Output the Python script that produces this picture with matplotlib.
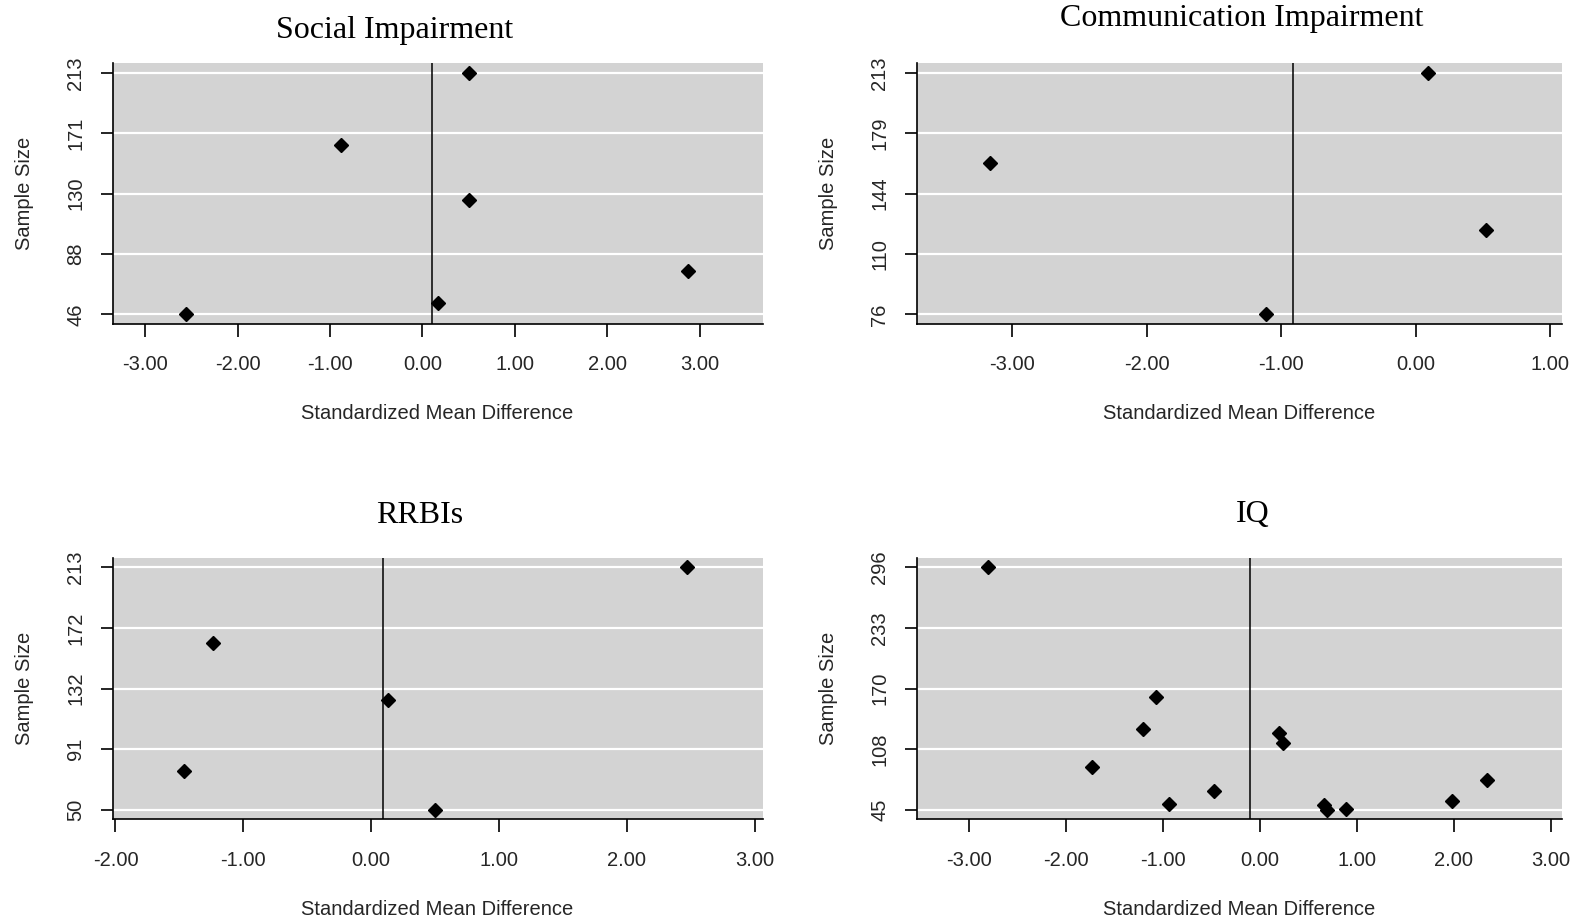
import numpy as np
import matplotlib
matplotlib.use("Agg")
import matplotlib.pyplot as plt

plt.rcParams["font.family"] = ["Liberation Sans", "DejaVu Sans"]

# data: standardized mean difference vs sample size
social_smd = [0.50, -0.88, 0.50, 2.87, 0.17, -2.56]
social_n = [213, 163, 125, 76, 54, 46]
social_mean = 0.10

comm_smd = [0.09, -3.17, 0.52, -1.11]
comm_n = [213, 162, 124, 76]
comm_mean = -0.91

rrbi_smd = [2.47, -1.24, 0.13, -1.46, 0.50]
rrbi_n = [213, 162, 124, 76, 50]
rrbi_mean = 0.094

iq_smd = [-2.81, -1.07, -1.21, -1.73, -0.94, -0.47, 0.20, 0.24, 0.66, 0.69, 0.89, 1.98, 2.34]
iq_n = [296, 162, 129, 89, 51, 64, 124, 114, 50, 45, 46, 54, 76]
iq_mean = -0.098

social_yticks = ["46", "88", "130", "171", "213"]
comm_yticks = ["76", "110", "144", "179", "213"]
rrbi_yticks = ["50", "91", "132", "172", "213"]
iq_yticks = ["45", "108", "170", "233", "296"]

social_xticks = [-3, -2, -1, 0, 1, 2, 3]
comm_xticks = [-3, -2, -1, 0, 1]
rrbi_xticks = [-2, -1, 0, 1, 2, 3]
iq_xticks = [-3, -2, -1, 0, 1, 2, 3]

W, H = 1576, 923
fig = plt.figure(figsize=(W / 100, H / 100), dpi=100)


def px_axes(left, top, right, bottom):
    return fig.add_axes([left / W, 1 - bottom / H, (right - left) / W, (bottom - top) / H])


panels = [
    (px_axes(112.5, 63.3, 762.5, 324.0), social_smd, social_n, social_mean,
     social_yticks, social_xticks, (-3.355, 3.68)),
    (px_axes(916.5, 63.3, 1561.5, 324.0), comm_smd, comm_n, comm_mean,
     comm_yticks, comm_xticks, (-3.714, 1.085)),
    (px_axes(112.5, 557.7, 762.5, 819.3), rrbi_smd, rrbi_n, rrbi_mean,
     rrbi_yticks, rrbi_xticks, (-2.023, 3.06)),
    (px_axes(916.5, 557.7, 1561.5, 819.3), iq_smd, iq_n, iq_mean,
     iq_yticks, iq_xticks, (-3.543, 3.11)),
]

txt_col = "#262626"
for ax, smd, n, mean, ylabs, xt, xlim in panels:
    lo, hi = int(ylabs[0]), int(ylabs[-1])
    pad = 0.04 * (hi - lo)
    ax.set_facecolor("#d3d3d3")
    ax.set_axisbelow(True)
    ax.yaxis.grid(True, color="white", lw=1.6)
    ax.xaxis.grid(False)
    ax.axvline(mean, color="black", lw=1.1, zorder=2)
    ax.plot(smd, n, "D", color="black", ms=7.3, zorder=3)
    ax.set_xlim(*xlim)
    ax.set_ylim(lo - pad, hi + pad)
    ax.set_yticks(np.linspace(lo, hi, 5))
    ax.set_yticklabels(ylabs, rotation=90, va="center", fontsize=14.5, color=txt_col)
    ax.set_xticks(xt)
    ax.set_xticklabels(["%.2f" % v for v in xt], fontsize=14.5, color=txt_col)
    ax.tick_params(axis="x", length=9.5, width=1.2, pad=13)
    ax.tick_params(axis="y", length=9, width=1.2, pad=10.5)
    for s in ["top", "right"]:
        ax.spines[s].set_visible(False)
    for s in ["left", "bottom"]:
        ax.spines[s].set_linewidth(1.2)
    ax.set_ylabel("Sample Size", fontsize=14.5, color=txt_col)
    ax.yaxis.set_label_coords(-0.121, 0.5)
    ax.set_xlabel("Standardized Mean Difference", fontsize=14.5, color=txt_col)
    ax.xaxis.set_label_coords(0.5, -0.343)
    ax.xaxis.label.set_va("center")

titles = [("Social Impairment", 395, 38), ("Communication Impairment", 1242, 26),
          ("RRBIs", 420, 523), ("IQ", 1253, 522)]
for txt, cx, base in titles:
    fig.text(cx / W, 1 - base / H, txt, ha="center", va="baseline",
             fontsize=23, family=["Liberation Serif", "DejaVu Serif"])

fig.savefig("out.png", dpi=100, facecolor="white")
